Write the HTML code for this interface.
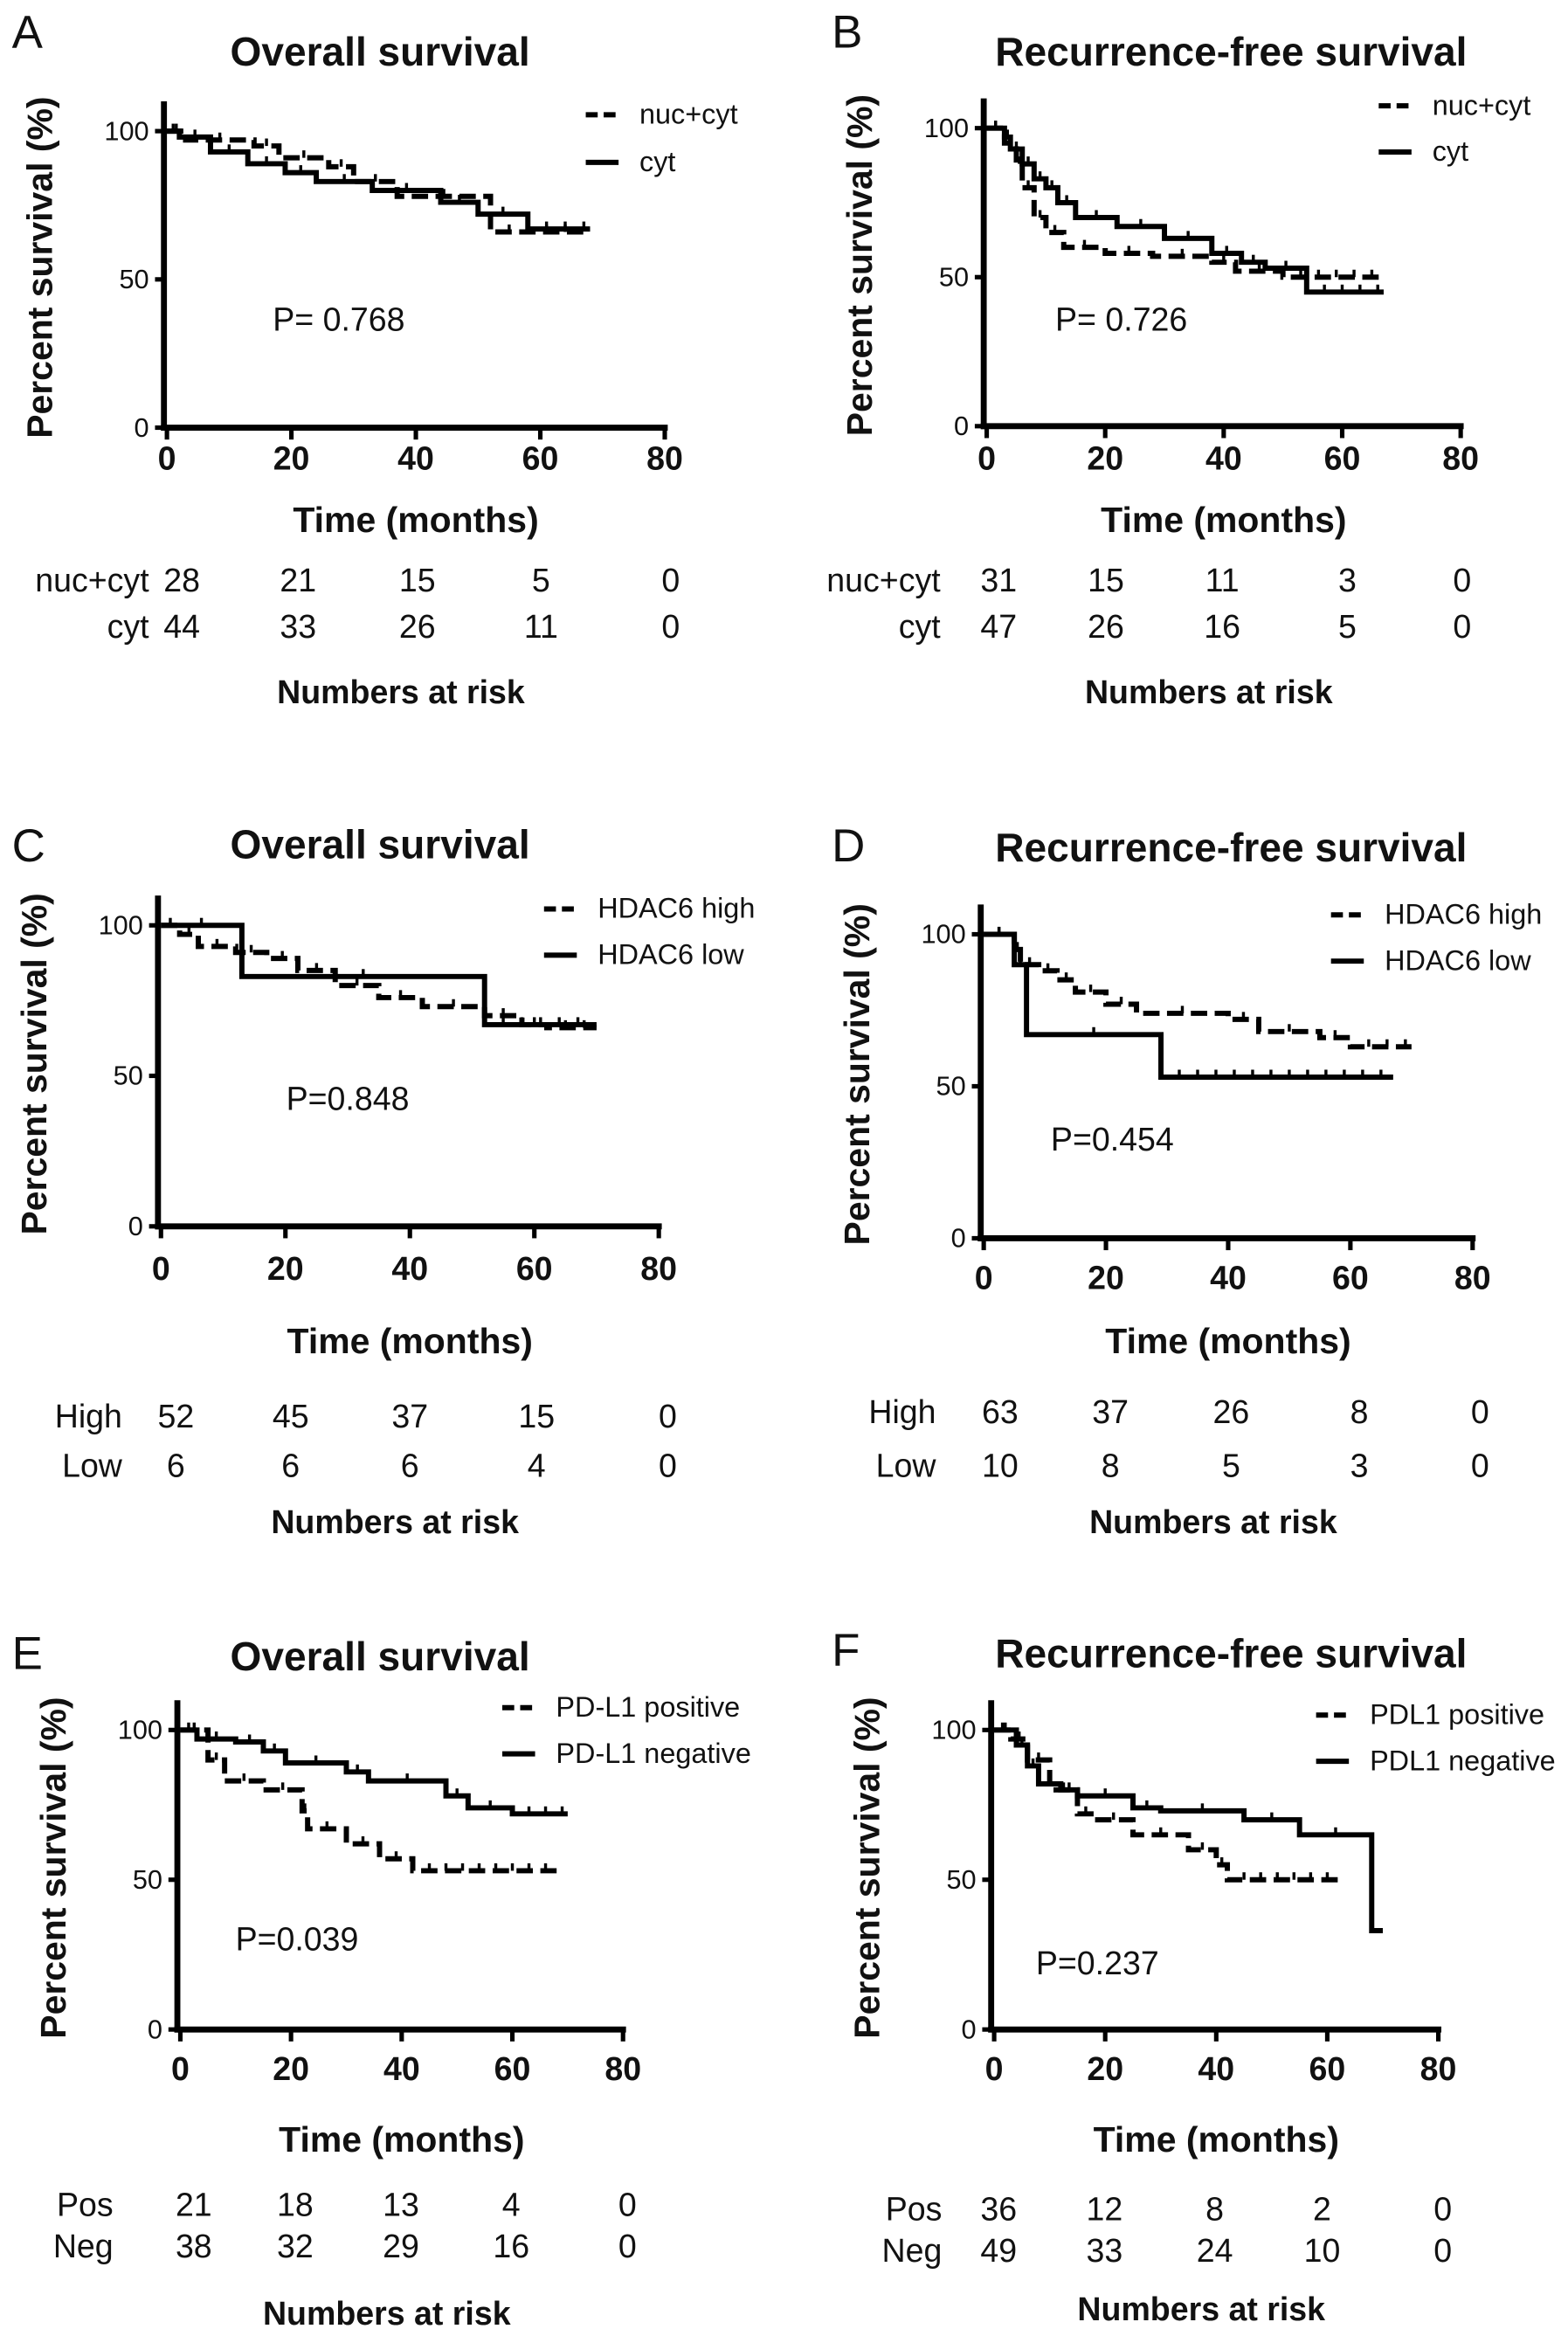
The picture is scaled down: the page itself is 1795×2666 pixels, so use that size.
<!DOCTYPE html>
<html><head><meta charset="utf-8">
<style>
html,body{margin:0;padding:0;background:#fff;}
svg{display:block;}
text{font-family:"Liberation Sans",Arial,sans-serif;fill:#111;}
.b{font-weight:bold;}
</style></head>
<body>
<svg id="fig" width="1795" height="2666" viewBox="0 0 1052 1563" preserveAspectRatio="none" xmlns="http://www.w3.org/2000/svg"></svg>
<script>
// ---- Data ----
const xTicks = [0,20,40,60,80];
const yTicks = [0,50,100];
// Panel A
const aNucT = [0,3,14,18,26,30,37,52], aNucS = [100,97,95,91,88,83,78,66], aNucEnd = 67;
const aCytT = [0,2,7,13,19,24,33,44,50,58], aCytS = [100,98,93,89,86,83,80,76,72,67], aCytEnd = 68;
// Panel B
const bNucT = [0,3,5,6,8,10,13,20,28,38,42,50], bNucS = [100,95,88,80,70,65,60,58,57,55,52,50], bNucEnd = 67;
const bCytT = [0,3,4,6,8,10,12,15,22,30,38,43,47,54], bCytS = [100,97,93,88,83,80,75,70,67,63,58,55,53,45], bCytEnd = 67;
// Panel C
const cHighT = [0,3,6,12,17,22,28,35,42,52,58,62], cHighS = [100,97,93,91,89,85,80,76,73,70,67,66], cHighEnd = 70;
const cLowT = [0,13,52], cLowS = [100,83,67], cLowEnd = 70;
// Panel D
const dHighT = [0,5,6,9,12,15,20,25,40,45,55,60], dHighS = [100,95,90,88,85,81,77,74,72,68,66,63], dHighEnd = 70;
const dLowT = [0,5,7,29], dLowS = [100,90,67,53], dLowEnd = 67;
// Panel E
const ePosT = [0,5,8,15,22,23,30,36,42], ePosS = [100,90,83,80,73,67,62,57,53], ePosEnd = 68;
const eNegT = [0,3,10,15,19,30,34,48,52,60], eNegS = [100,97,96,93,89,86,83,78,74,72], eNegEnd = 70;
// Panel F
const fPosT = [0,3,6,10,15,18,25,35,40,42], fPosS = [100,97,90,80,72,70,65,60,55,50], fPosEnd = 63;
const fNegT = [0,4,6,8,12,15,25,30,45,55,68], fNegS = [100,95,88,82,80,78,74,73,70,65,33], fNegEnd = 70;
// Risk tables
const riskA = [[28,21,15,5,0],[44,33,26,11,0]];
const riskB = [[31,15,11,3,0],[47,26,16,5,0]];
const riskC = [[52,45,37,15,0],[6,6,6,4,0]];
const riskD = [[63,37,26,8,0],[10,8,5,3,0]];
const riskE = [[21,18,13,4,0],[38,32,29,16,0]];
const riskF = [[36,12,8,2,0],[49,33,24,10,0]];

const NS = "http://www.w3.org/2000/svg";
const svg = document.getElementById('fig');
function el(tag, attrs, parent, txt){
  const e = document.createElementNS(NS, tag);
  for (const k in attrs) e.setAttribute(k, attrs[k]);
  if (txt !== undefined) e.textContent = txt;
  (parent||svg).appendChild(e);
  return e;
}

const panels = [
 {id:'a',letter:'A',lx:8,ly:32,title:'Overall survival',tx:255,ty:44,x0:112,x1:446,y100:88,y0:287,
  series:[[aNucT,aNucS,aNucEnd,true],[aCytT,aCytS,aCytEnd,false]],legend:['nuc+cyt','cyt'],legX:393,legY:[83,115],
  p:'P= 0.768',px:183,py:222,tickY:315,timeY:357,riskY:[397,428],riskX:[122,200,280,363,450],riskLab:['nuc+cyt','cyt'],risk:riskA,numY:472,labR:100},
 {id:'b',letter:'B',lx:558,ly:32,title:'Recurrence-free survival',tx:826,ty:44,x0:662,x1:980,y100:86,y0:286,
  series:[[bNucT,bNucS,bNucEnd,true],[bCytT,bCytS,bCytEnd,false]],legend:['nuc+cyt','cyt'],legX:925,legY:[77,108],
  p:'P= 0.726',px:708,py:222,tickY:315,timeY:357,riskY:[397,428],riskX:[670,742,820,904,981],riskLab:['nuc+cyt','cyt'],risk:riskB,numY:472,labR:631},
 {id:'c',letter:'C',lx:8,ly:578,title:'Overall survival',tx:255,ty:576,x0:108,x1:442,y100:621,y0:823,
  series:[[cHighT,cHighS,cHighEnd,true],[cLowT,cLowS,cLowEnd,false]],legend:['HDAC6 high','HDAC6 low'],legX:365,legY:[616,647],
  p:'P=0.848',px:192,py:745,tickY:859,timeY:908,riskY:[958,991],riskX:[118,195,275,360,448],riskLab:['High','Low'],risk:riskC,numY:1029,labR:82},
 {id:'d',letter:'D',lx:558,ly:578,title:'Recurrence-free survival',tx:826,ty:578,x0:660,x1:988,y100:627,y0:831,
  series:[[dHighT,dHighS,dHighEnd,true],[dLowT,dLowS,dLowEnd,false]],legend:['HDAC6 high','HDAC6 low'],legX:893,legY:[620,651],
  p:'P=0.454',px:705,py:772,tickY:865,timeY:908,riskY:[955,991],riskX:[671,745,826,912,993],riskLab:['High','Low'],risk:riskD,numY:1029,labR:628},
 {id:'e',letter:'E',lx:8,ly:1120,title:'Overall survival',tx:255,ty:1121,x0:121,x1:418,y100:1161,y0:1362,
  series:[[ePosT,ePosS,ePosEnd,true],[eNegT,eNegS,eNegEnd,false]],legend:['PD-L1 positive','PD-L1 negative'],legX:337,legY:[1152,1183],
  p:'P=0.039',px:158,py:1309,tickY:1396,timeY:1444,riskY:[1487,1515],riskX:[130,198,269,343,421],riskLab:['Pos','Neg'],risk:riskE,numY:1560,labR:76},
 {id:'f',letter:'F',lx:558,ly:1118,title:'Recurrence-free survival',tx:826,ty:1119,x0:667,x1:965,y100:1161,y0:1362,
  series:[[fPosT,fPosS,fPosEnd,true],[fNegT,fNegS,fNegEnd,false]],legend:['PDL1 positive','PDL1 negative'],legX:883,legY:[1157,1188],
  p:'P=0.237',px:695,py:1325,tickY:1396,timeY:1444,riskY:[1490,1518],riskX:[670,741,815,887,968],riskLab:['Pos','Neg'],risk:riskF,numY:1557,labR:632}
];

panels.forEach(P=>{
  const g = el('g',{});
  
  
  const X = t => P.x0 + (P.x1-P.x0)*t/80;
  const Y = s => P.y0 - (P.y0-P.y100)*s/100;
  const lt = el('text',{x:P.lx,y:P.ly,'font-size':31},g,P.letter);
   
  const tt = el('text',{x:P.tx,y:P.ty,'font-size':27,'text-anchor':'middle',class:'b'},g,P.title);
   
  const top = P.y100 - 20;
  const ya = el('line',{x1:P.x0-2,y1:top,x2:P.x0-2,y2:P.y0+2,stroke:'#000','stroke-width':4},g);
   
  const xa = el('line',{x1:P.x0-4,y1:P.y0,x2:P.x1+2,y2:P.y0,stroke:'#000','stroke-width':4},g);
   
  yTicks.forEach(v=>{
    el('line',{x1:P.x0-8,y1:Y(v),x2:P.x0-2,y2:Y(v),stroke:'#000','stroke-width':3},g);
    const t = el('text',{x:P.x0-12,y:Y(v)+6,'font-size':18,'text-anchor':'end'},g,String(v));
     
  });
  xTicks.forEach(v=>{
    el('line',{x1:X(v),y1:P.y0,x2:X(v),y2:P.y0+8,stroke:'#000','stroke-width':3},g);
    const t = el('text',{x:X(v),y:P.tickY,'font-size':22,'text-anchor':'middle',class:'b'},g,String(v));
     
  });
  const yl = el('text',{x:0,y:0,'font-size':24,'text-anchor':'middle',class:'b',transform:`translate(${P.x0-77},${(P.y0+P.y100)/2 - 8}) rotate(-90)`},g,'Percent survival (%)');
   
  const xl = el('text',{x:(P.x0+P.x1)/2,y:P.timeY,'font-size':24,'text-anchor':'middle',class:'b'},g,'Time (months)');
   
  P.series.forEach((s,i)=>{
    const [T,S,end,dash] = s;
    let d = `M${X(T[0])},${Y(S[0])}`;
    for (let k=1;k<T.length;k++){ d += ` H${X(T[k])} V${Y(S[k])}`; }
    d += ` H${X(end)}`;
    const attrs = {d:d,fill:'none',stroke:'#000','stroke-width':3.5};
    if (dash) attrs['stroke-dasharray']='11,5';
    const p = el('path',attrs,g);
    
    
    for (let k=1;k<T.length;k++){
      const tm = (T[k-1]+T[k])/2;
      el('line',{x1:X(tm),y1:Y(S[k-1])-5,x2:X(tm),y2:Y(S[k-1]),stroke:'#000','stroke-width':2},g);
    }
    const lastT = T[T.length-1];
    for (let tm=lastT+3; tm<end; tm+=3){
      el('line',{x1:X(tm),y1:Y(S[S.length-1])-5,x2:X(tm),y2:Y(S[S.length-1]),stroke:'#000','stroke-width':2},g);
    }
    const la = {x1:P.legX,y1:P.legY[i]-6,x2:P.legX+22,y2:P.legY[i]-6,stroke:'#000','stroke-width':3.5};
    if (dash) la['stroke-dasharray']='8,4';
    const ll = el('line',la,g);
     
    const lx = el('text',{x:P.legX+36,y:P.legY[i],'font-size':19},g,P.legend[i]);
     
  });
  const pt = el('text',{x:P.px,y:P.py,'font-size':22},g,P.p);
   
  P.risk.forEach((row,r)=>{
    const lab = el('text',{x:P.labR,y:P.riskY[r],'font-size':22,'text-anchor':'end'},g,P.riskLab[r]);
     
    row.forEach((v,c)=>{
      const t = el('text',{x:P.riskX[c],y:P.riskY[r],'font-size':22,'text-anchor':'middle'},g,String(v));
       
    });
  });
  const nr = el('text',{x:(P.x0+P.x1)/2-10,y:P.numY,'font-size':22,'text-anchor':'middle',class:'b'},g,'Numbers at risk');
   
});
</script>
</body></html>
